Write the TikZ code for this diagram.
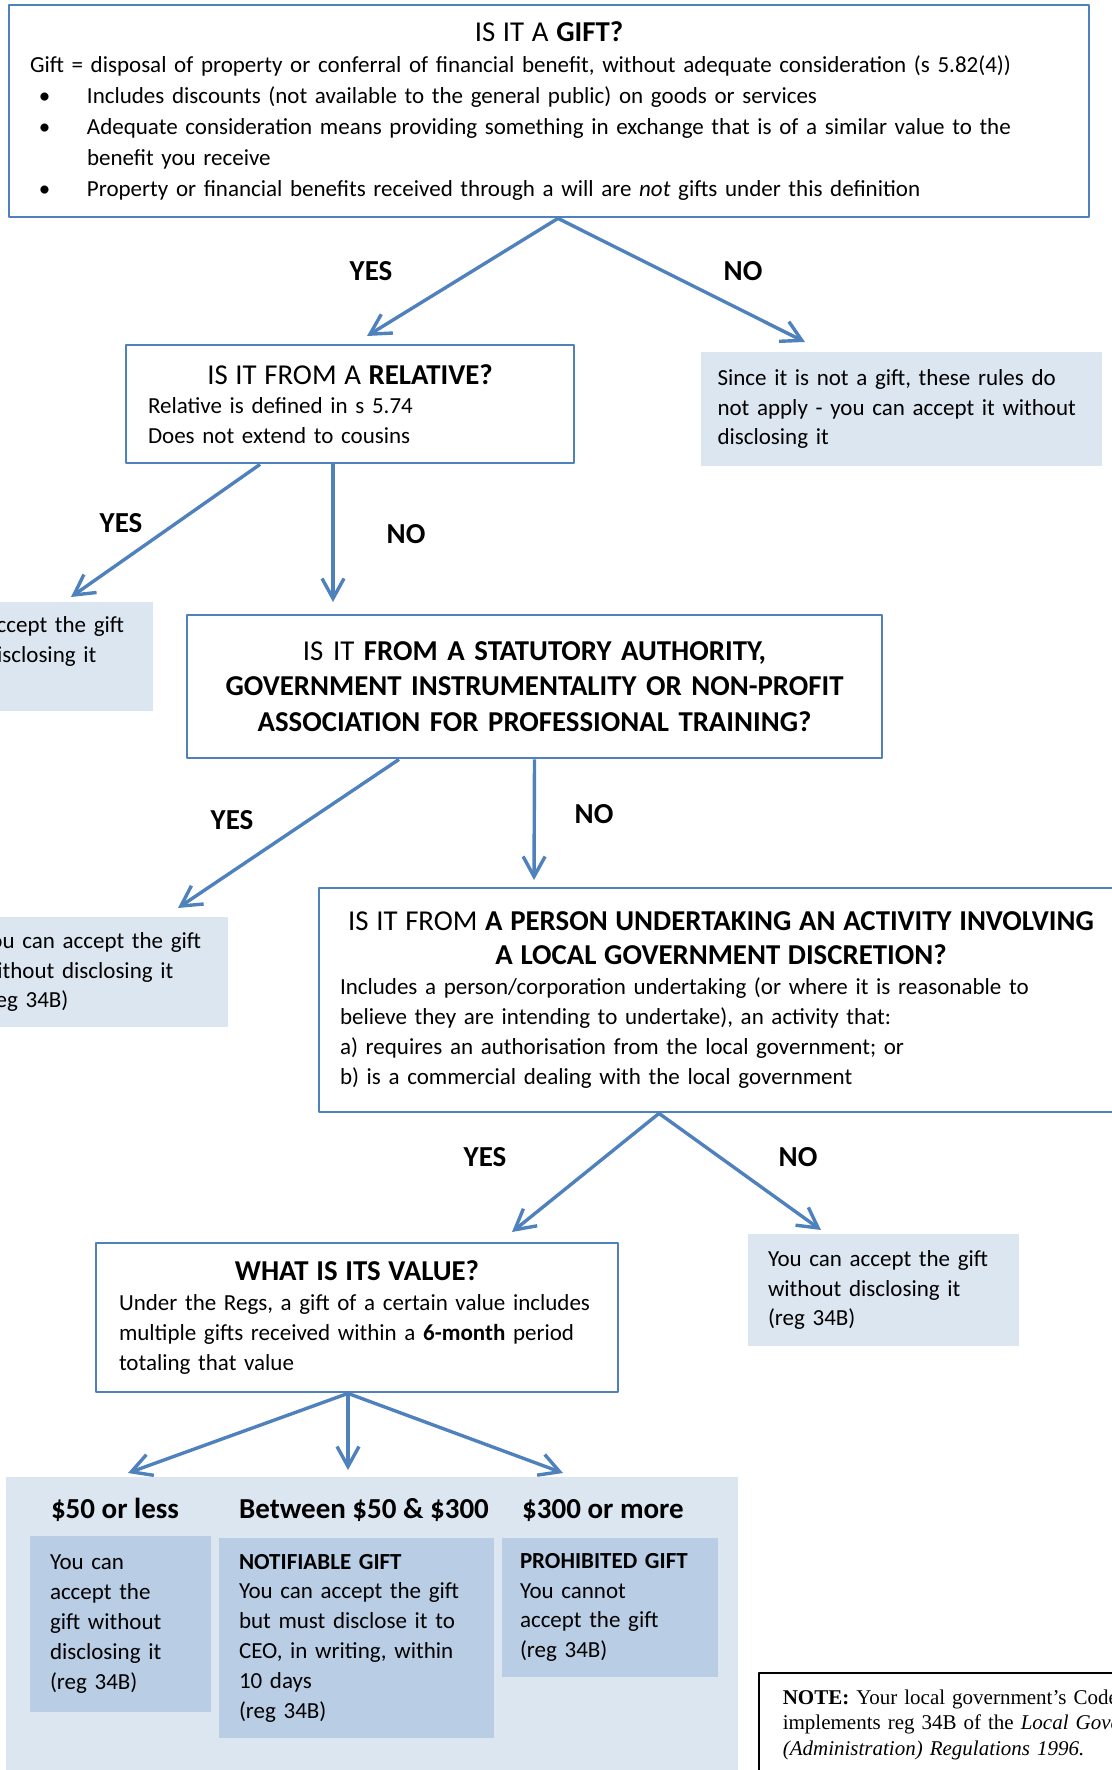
\documentclass[tikz,border=0pt]{standalone}
\usepackage{fontspec}
\setmainfont{Carlito}
\newfontfamily\notefont{Liberation Serif}
\usetikzlibrary{arrows.meta}
\definecolor{boxblue}{RGB}{79,129,189}
\definecolor{paleblue}{RGB}{220,230,241}
\definecolor{midblue}{RGB}{185,205,229}
\newcommand\titlesize{\fontsize{14.4}{17}\selectfont}
\newcommand\gitem{\par\leftskip=28.5pt\leavevmode\llap{\hbox to 28.5pt{\hskip 4.5pt\textbullet\hfil}}}
\begin{document}
\begin{tikzpicture}[x=0.5pt, y=-0.5pt,
  qbox/.style={draw=boxblue, line width=1.4pt, fill=white, inner ysep=0pt,
    align=left, font=\fontsize{11.5}{14.9}\selectfont},
  accept/.style={fill=paleblue, inner ysep=0pt, inner xsep=10pt,
    align=left, font=\fontsize{11.5}{14.9}\selectfont},
  band/.style={fill=midblue, inner ysep=0pt, inner xsep=10pt,
    align=left, font=\fontsize{11.5}{14.9}\selectfont},
  heading/.style={anchor=base, font=\fontsize{14.5}{16}\selectfont\bfseries},
  answer/.style={font=\fontsize{14.5}{16}\selectfont\bfseries},
  flow/.style={boxblue, line width=1.7pt, -{Straight Barb[length=10pt,width=11pt]}},
  line join=round]
  \useasboundingbox (0,0) rectangle (1112,1770);
  \clip (0,0) rectangle (1112,1770);

  \node[qbox, text width=519pt, inner xsep=10.5pt, minimum height=106pt,
    font=\fontsize{11.5}{15.5}\selectfont] (gift) at (549,111)
    {{\centering\titlesize IS IT A \textbf{GIFT?}\par}
     Gift = disposal of property or conferral of financial benefit, without adequate consideration (s 5.82(4))
     \gitem Includes discounts (not available to the general public) on goods or services
     \gitem Adequate consideration means providing something in exchange that is of a similar value to the\newline benefit you receive
     \gitem Property or financial benefits received through a will are \textit{not} gifts under this definition\par};
  \node[qbox, text width=202pt, inner xsep=11pt, minimum height=59pt] (rel) at (350,404)
    {{\centering\titlesize IS IT FROM A \textbf{RELATIVE?}\par}
     Relative is defined in s 5.74\\Does not extend to cousins};
  \node[accept, text width=184pt, inner xsep=8.25pt, minimum height=57pt] (notgift) at (901.5,409)
    {Since it is not a gift, these rules do\\not apply - you can accept it without\\disclosing it};
  \node[accept, text width=114.5pt, minimum height=54.5pt] (relyes) at (18.5,656.5)
    {You can accept the gift\\without disclosing it\\(reg 34B)};
  \node[qbox, text width=347.5pt, inner xsep=0pt, minimum height=71.5pt, align=center,
    font=\fontsize{14.4}{17.9}\selectfont] (stat) at (534.5,686.5)
    {IS IT \textbf{FROM A STATUTORY AUTHORITY,}\\\textbf{GOVERNMENT INSTRUMENTALITY OR NON-PROFIT}\\\textbf{ASSOCIATION FOR PROFESSIONAL TRAINING?}};
  \node[accept, text width=113.5pt, minimum height=55pt] (statyes) at (94.5,972)
    {You can accept the gift\\without disclosing it\\(reg 34B)};
  \node[qbox, text width=381pt, inner xsep=10.5pt, minimum height=112pt] (person) at (721,1000)
    {{\centering\fontsize{14.4}{17}\selectfont IS IT FROM \textbf{A PERSON UNDERTAKING AN ACTIVITY INVOLVING}\\\textbf{A LOCAL GOVERNMENT DISCRETION?}\par}
     Includes a person/corporation undertaking (or where it is reasonable to\\believe they are intending to undertake), an activity that:\\a) requires an authorisation from the local government; or\\b) is a commercial dealing with the local government};
  \node[accept, text width=115.5pt, minimum height=56pt] (personno) at (883.5,1290)
    {You can accept the gift\\without disclosing it\\(reg 34B)};
  \node[qbox, text width=238pt, inner xsep=11.5pt, minimum height=74.5pt] (value) at (357,1317.5)
    {{\centering\titlesize\bfseries WHAT IS ITS VALUE?\par}
     Under the Regs, a gift of a certain value includes\\multiple gifts received within a \textbf{6-month} period\\totaling that value};

  \node[fill=paleblue, minimum width=366pt, minimum height=151.5pt, inner sep=0pt] (panel) at (372,1628.5) {};
  \node[heading] (low) at (115,1518) {\$50 or less};
  \node[heading] (mid) at (364,1518) {Between \$50 \& \$300};
  \node[heading] (high) at (603,1518) {\$300 or more};
  \node[band, text width=70.5pt, minimum height=88pt] (lowbox) at (120.5,1624)
    {You can\\accept the\\gift without\\disclosing it\\(reg 34B)};
  \node[band, text width=117.5pt, minimum height=100pt] (midbox) at (356.5,1638)
    {\textbf{NOTIFIABLE GIFT}\\You can accept the gift\\but must disclose it to\\CEO, in writing, within\\10 days\\(reg 34B)};
  \node[band, text width=90pt, inner xsep=9pt, minimum height=69.5pt] (highbox) at (610,1607.5)
    {\textbf{PROHIBITED GIFT}\\You cannot\\accept the gift\\(reg 34B)};
  \node[draw=black, line width=0.8pt, fill=white, anchor=north west, inner xsep=12pt, inner ysep=8.5pt,
    text width=250pt, align=left, font=\notefont\fontsize{10.5}{12.8}\selectfont] (note) at (758,1672)
    {\textbf{NOTE:} Your local government’s Code\\implements reg 34B of the \textit{Local Government}\\\textit{(Administration) Regulations 1996.}};

  \node[answer] (yes1) at (371,271) {YES};
  \node[answer] (no1) at (743,271) {NO};
  \node[answer] (yes2) at (121,523) {YES};
  \node[answer] (no2) at (406,534) {NO};
  \node[answer] (yes3) at (232,820) {YES};
  \node[answer] (no3) at (594,814) {NO};
  \node[answer] (yes4) at (485,1157) {YES};
  \node[answer] (no4) at (798,1157) {NO};

  \coordinate (giftfoot) at ([xshift=4.5pt]gift.south);
  \coordinate (relleft) at ([xshift=-45pt]rel.south);
  \coordinate (relmid) at ([xshift=-8.5pt]rel.south);
  \coordinate (statleft) at ([xshift=-67.75pt]stat.south);
  \coordinate (statmid) at (stat.south);
  \coordinate (personfoot) at ([xshift=-31pt]person.south);
  \coordinate (valuefoot) at ([xshift=-4.5pt]value.south);
  \coordinate (relin) at (367,336);
  \coordinate (notgiftin) at (805,342);
  \coordinate (relyesin) at (71,597);
  \coordinate (statin) at (333,602);
  \coordinate (statyesin) at (178,908);
  \coordinate (personin) at (534,880);
  \coordinate (valuein) at (512,1232);
  \coordinate (personnoin) at (821,1230);
  \coordinate (lowin) at (128,1473);
  \coordinate (midin) at (348,1470);
  \coordinate (highin) at (563,1473);

  \foreach \from/\to in {giftfoot/relin, giftfoot/notgiftin, relleft/relyesin, relmid/statin,
    statleft/statyesin, statmid/personin, personfoot/valuein, personfoot/personnoin,
    valuefoot/lowin, valuefoot/midin, valuefoot/highin}
    \draw[flow] (\from) -- (\to);
\end{tikzpicture}
\end{document}
